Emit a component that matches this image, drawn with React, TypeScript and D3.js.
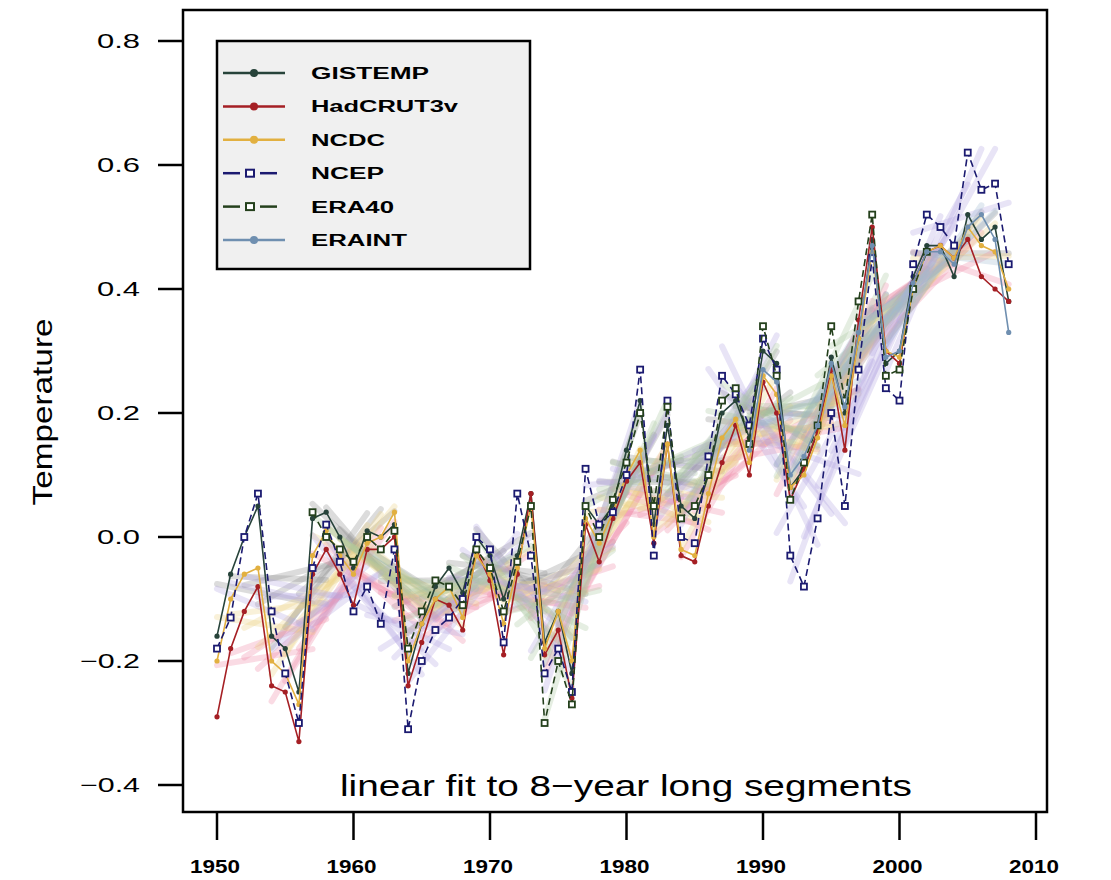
import React from "react";
import * as d3 from "d3";

const YEARS_FULL = d3.range(1950, 2009);
const GISTEMP = [-0.16,-0.06,0.00,0.05,-0.16,-0.18,-0.25,0.03,0.04,0.00,-0.05,0.01,0.00,0.02,-0.22,-0.14,-0.08,-0.05,-0.09,0.00,-0.03,-0.10,-0.03,0.07,-0.17,-0.12,-0.22,0.05,0.02,0.05,0.14,0.22,0.02,0.18,0.05,0.03,0.10,0.20,0.22,0.16,0.30,0.28,0.08,0.11,0.17,0.29,0.20,0.32,0.48,0.28,0.30,0.42,0.47,0.47,0.42,0.52,0.48,0.50,0.38];
const HADCRUT = [-0.29,-0.18,-0.12,-0.08,-0.24,-0.25,-0.33,-0.06,-0.02,-0.06,-0.11,-0.02,-0.02,0.00,-0.24,-0.17,-0.10,-0.11,-0.15,-0.02,-0.07,-0.19,-0.06,0.07,-0.19,-0.15,-0.26,0.02,-0.04,0.03,0.09,0.12,-0.01,0.15,-0.03,-0.04,0.05,0.12,0.18,0.10,0.25,0.20,0.06,0.11,0.17,0.27,0.14,0.35,0.50,0.30,0.28,0.41,0.46,0.47,0.45,0.48,0.42,0.40,0.38];
const NCDC = [-0.20,-0.10,-0.06,-0.05,-0.20,-0.22,-0.27,-0.03,0.01,-0.03,-0.06,-0.01,0.00,0.04,-0.20,-0.14,-0.10,-0.08,-0.13,-0.03,-0.06,-0.14,-0.05,0.05,-0.18,-0.12,-0.20,0.03,-0.01,0.04,0.10,0.14,0.00,0.15,-0.02,-0.03,0.07,0.16,0.19,0.12,0.26,0.23,0.08,0.10,0.16,0.26,0.18,0.32,0.46,0.30,0.29,0.40,0.46,0.47,0.45,0.50,0.47,0.46,0.40];
const NCEP = [-0.18,-0.13,0.00,0.07,-0.12,-0.22,-0.30,-0.05,0.02,-0.04,-0.12,-0.08,-0.14,-0.02,-0.31,-0.20,-0.15,-0.13,-0.10,0.00,-0.02,-0.17,0.07,-0.03,-0.22,-0.18,-0.25,0.11,0.02,0.04,0.10,0.27,-0.03,0.22,0.00,-0.01,0.13,0.26,0.23,0.18,0.32,0.27,-0.03,-0.08,0.03,0.20,0.05,0.27,0.45,0.24,0.22,0.44,0.52,0.50,0.47,0.62,0.56,0.57,0.44];
const YEARS_ERA40 = d3.range(1957, 2003);
const ERA40 = [0.04,0.00,-0.02,-0.04,0.00,-0.02,0.01,-0.18,-0.12,-0.07,-0.08,-0.11,-0.02,-0.05,-0.12,-0.04,0.05,-0.30,-0.20,-0.27,0.05,0.00,0.06,0.12,0.20,0.05,0.21,0.03,0.05,0.10,0.22,0.24,0.15,0.34,0.26,0.06,0.12,0.18,0.34,0.22,0.38,0.52,0.26,0.27,0.40,0.46];
const YEARS_ERAINT = d3.range(1989, 2009);
const ERAINT = [0.14,0.27,0.25,0.10,0.13,0.18,0.28,0.21,0.33,0.47,0.29,0.30,0.41,0.46,0.46,0.44,0.50,0.52,0.48,0.33];

const X_TICKS = [1950, 1960, 1970, 1980, 1990, 2000, 2010];
const Y_TICKS = [-0.4, -0.2, 0.0, 0.2, 0.4, 0.6, 0.8];
const SEGMENT_YEARS = 8;

type Series = { name: string; years: number[]; values: number[]; color: string; fit: string; marker: "dot" | "square"; dashed: boolean; legendW: number };

const SERIES: Series[] = [
  { name: "GISTEMP", years: YEARS_FULL, values: GISTEMP, color: "#27433a", fit: "#8c8c8c", marker: "dot", dashed: false, legendW: 118 },
  { name: "HadCRUT3v", years: YEARS_FULL, values: HADCRUT, color: "#a51f24", fit: "#f088a4", marker: "dot", dashed: false, legendW: 147 },
  { name: "NCDC", years: YEARS_FULL, values: NCDC, color: "#e2b040", fit: "#ecd080", marker: "dot", dashed: false, legendW: 74 },
  { name: "NCEP", years: YEARS_FULL, values: NCEP, color: "#1b1a70", fit: "#b4a4e0", marker: "square", dashed: true, legendW: 73 },
  { name: "ERA40", years: YEARS_ERA40, values: ERA40, color: "#24401c", fit: "#a8c8a0", marker: "square", dashed: true, legendW: 83 },
  { name: "ERAINT", years: YEARS_ERAINT, values: ERAINT, color: "#6f8fb0", fit: "#a0b8d0", marker: "dot", dashed: false, legendW: 96 },
];

function fitSegments(years: number[], values: number[]) {
  const segs: [number, number, number, number][] = [];
  for (let i = 0; i + SEGMENT_YEARS <= years.length; i++) {
    const xs = years.slice(i, i + SEGMENT_YEARS);
    const ys = values.slice(i, i + SEGMENT_YEARS);
    const mx = d3.mean(xs)!;
    const my = d3.mean(ys)!;
    let num = 0, den = 0;
    xs.forEach((x, k) => { num += (x - mx) * (ys[k] - my); den += (x - mx) ** 2; });
    const b = num / den;
    const a = my - b * mx;
    const x0 = xs[0], x1 = xs[xs.length - 1];
    segs.push([x0, a + b * x0, x1, a + b * x1]);
  }
  return segs;
}

export default function App() {
  const W = 1111, H = 880;
  const box = { l: 183, t: 10, r: 1047, b: 812 };
  const x = d3.scaleLinear().domain([1950, 2010]).range([217, 1036]);
  const y = d3.scaleLinear().domain([-0.4, 0.8]).range([785, 41]);
  const line = d3.line<[number, number]>().x(d => x(d[0])).y(d => y(d[1]));
  const font = "'Liberation Sans', Arial, sans-serif";

  return (
    <svg width={W} height={H} style={{ position: "absolute", left: 0, top: 0, background: "#fff" }} fontFamily={font}>
      <defs>
        <clipPath id="plotclip"><rect x={box.l} y={box.t} width={box.r - box.l} height={box.b - box.t} /></clipPath>
      </defs>
      <g clipPath="url(#plotclip)">
        {SERIES.map(s => (
          <g key={"fit" + s.name}>
            {fitSegments(s.years, s.values).map((sg, i) => (
              <line key={i} x1={x(sg[0])} y1={y(sg[1])} x2={x(sg[2])} y2={y(sg[3])} stroke={s.fit} strokeWidth={6} strokeOpacity={0.3} strokeLinecap="round" />
            ))}
          </g>
        ))}
        {SERIES.map(s => {
          const pts: [number, number][] = s.years.map((yr, i) => [yr, s.values[i]]);
          return (
            <g key={s.name}>
              <path d={line(pts) ?? ""} fill="none" stroke={s.color} strokeWidth={1.6} strokeDasharray={s.dashed ? "7,4" : undefined} />
              {pts.map((p, i) => s.marker === "dot"
                ? <circle key={i} cx={x(p[0])} cy={y(p[1])} r={2.6} fill={s.color} />
                : <rect key={i} x={x(p[0]) - 3} y={y(p[1]) - 3} width={6} height={6} fill="#fff" stroke={s.color} strokeWidth={1.8} />)}
            </g>
          );
        })}
      </g>

      {/* legend */}
      <rect x={217} y={41} width={313} height={228} fill="#f0f0f0" stroke="#000" strokeWidth={2.5} />
      {SERIES.map((s, i) => {
        const ly = 73 + i * 33.4;
        return (
          <g key={"lg" + s.name}>
            {s.dashed ? (
              <>
                <line x1={223} y1={ly} x2={240} y2={ly} stroke={s.color} strokeWidth={2.5} />
                <line x1={260} y1={ly} x2={277} y2={ly} stroke={s.color} strokeWidth={2.5} />
                <rect x={246} y={ly - 3.5} width={8} height={7} fill="#fff" stroke={s.color} strokeWidth={2} />
              </>
            ) : (
              <>
                <line x1={223} y1={ly} x2={285} y2={ly} stroke={s.color} strokeWidth={2.5} />
                <circle cx={254} cy={ly} r={4} fill={s.color} />
              </>
            )}
            <text x={311} y={ly + 6} fontSize={16} fontWeight="bold" textLength={s.legendW} lengthAdjust="spacingAndGlyphs">{s.name}</text>
          </g>
        );
      })}

      <text x={626} y={796} fontSize={30} textAnchor="middle" textLength={572} lengthAdjust="spacingAndGlyphs">linear fit to 8−year long segments</text>

      <rect x={box.l} y={box.t} width={box.r - box.l} height={box.b - box.t} fill="none" stroke="#000" strokeWidth={2.5} />

      {Y_TICKS.map(t => (
        <g key={"yt" + t}>
          <line x1={158} x2={box.l} y1={y(t)} y2={y(t)} stroke="#000" strokeWidth={2.5} />
          <text x={140} y={y(t) + 7} fontSize={20} textAnchor="end" textLength={t < 0 ? 60 : 43} lengthAdjust="spacingAndGlyphs">{t < 0 ? "−" : ""}{Math.abs(t).toFixed(1)}</text>
        </g>
      ))}
      {X_TICKS.map(t => (
        <g key={"xt" + t}>
          <line x1={x(t)} x2={x(t)} y1={box.b} y2={840} stroke="#000" strokeWidth={2.5} />
          <text x={x(t) - 2} y={873} fontSize={19} fontWeight="bold" textAnchor="middle" textLength={50} lengthAdjust="spacingAndGlyphs">{t}</text>
        </g>
      ))}
      <text transform="translate(52,412) rotate(-90)" fontSize={28} textAnchor="middle" textLength={187} lengthAdjust="spacingAndGlyphs">Temperature</text>
    </svg>
  );
}
